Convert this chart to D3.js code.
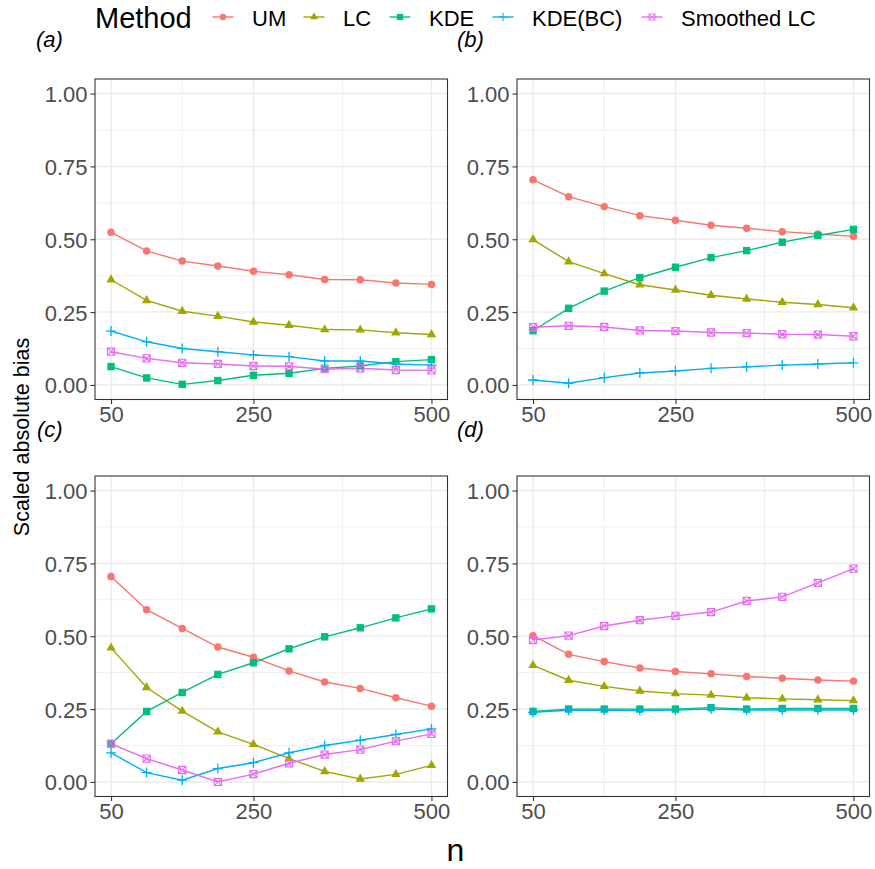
<!DOCTYPE html>
<html>
<head>
<meta charset="utf-8">
<script src="https://cdn.jsdelivr.net/npm/d3@7"></script>
<style>
  html, body { margin: 0; padding: 0; background: #fff; }
  svg { display: block; font-family: "Liberation Sans", Arial, Helvetica, sans-serif; }
</style>
</head>
<body>
<svg id="chart" width="875" height="869"></svg>
<script>
// ---------------- DATA ----------------
const nValues = [50, 100, 150, 200, 250, 300, 350, 400, 450, 500];
const methods = ["UM", "LC", "KDE", "KDE(BC)", "Smoothed LC"];
const methodColors = ["#F8766D", "#A3A500", "#00BF7D", "#00B0F6", "#E76BF3"];
const xTicks = [50, 250, 500];
const xMinor = [150, 375];
const yTicks = [0, 0.25, 0.5, 0.75, 1];
const yTickLabels = ["0.00", "0.25", "0.50", "0.75", "1.00"];
const yMinor = [0.125, 0.375, 0.625, 0.875];
const panelTags = ["(a)", "(b)", "(c)", "(d)"];

// panel (a)
const aUM  = [0.524, 0.460, 0.425, 0.408, 0.390, 0.378, 0.362, 0.361, 0.350, 0.345];
const aLC  = [0.361, 0.290, 0.253, 0.236, 0.216, 0.205, 0.190, 0.189, 0.179, 0.173];
const aKDE = [0.063, 0.024, 0.002, 0.015, 0.033, 0.040, 0.057, 0.065, 0.080, 0.087];
const aBC  = [0.185, 0.148, 0.125, 0.114, 0.103, 0.097, 0.082, 0.082, 0.072, 0.068];
const aSLC = [0.114, 0.091, 0.076, 0.072, 0.065, 0.064, 0.054, 0.057, 0.051, 0.050];
// panel (b)
const bUM  = [0.704, 0.646, 0.612, 0.581, 0.565, 0.548, 0.538, 0.526, 0.518, 0.510];
const bLC  = [0.499, 0.423, 0.382, 0.344, 0.326, 0.308, 0.295, 0.284, 0.276, 0.265];
const bKDE = [0.186, 0.263, 0.322, 0.368, 0.404, 0.437, 0.461, 0.490, 0.513, 0.534];
const bBC  = [0.017, 0.006, 0.025, 0.041, 0.048, 0.057, 0.062, 0.068, 0.072, 0.076];
const bSLC = [0.198, 0.203, 0.199, 0.187, 0.185, 0.180, 0.178, 0.174, 0.173, 0.167];
// panel (c)
const cUM  = [0.705, 0.591, 0.527, 0.463, 0.428, 0.381, 0.343, 0.321, 0.289, 0.260];
const cLC  = [0.460, 0.324, 0.243, 0.172, 0.129, 0.080, 0.036, 0.010, 0.026, 0.057];
const cKDE = [0.131, 0.242, 0.307, 0.369, 0.409, 0.457, 0.498, 0.529, 0.563, 0.594];
const cBC  = [0.100, 0.032, 0.006, 0.046, 0.066, 0.100, 0.125, 0.143, 0.163, 0.182];
const cSLC = [0.131, 0.080, 0.041, 0.000, 0.027, 0.064, 0.094, 0.111, 0.140, 0.165];
// panel (d)
const dUM  = [0.502, 0.438, 0.413, 0.391, 0.379, 0.371, 0.362, 0.356, 0.350, 0.346];
const dLC  = [0.400, 0.349, 0.328, 0.312, 0.303, 0.298, 0.289, 0.285, 0.282, 0.279];
const dKDE = [0.242, 0.250, 0.250, 0.250, 0.250, 0.255, 0.250, 0.252, 0.252, 0.252];
const dBC  = [0.239, 0.246, 0.247, 0.245, 0.247, 0.250, 0.247, 0.247, 0.247, 0.247];
const dSLC = [0.487, 0.502, 0.535, 0.555, 0.570, 0.583, 0.621, 0.635, 0.683, 0.732];

const panelSeries = [
  [aUM, aLC, aKDE, aBC, aSLC],
  [bUM, bLC, bKDE, bBC, bSLC],
  [cUM, cLC, cKDE, cBC, cSLC],
  [dUM, dLC, dKDE, dBC, dSLC]
];

// ---------------- LAYOUT ----------------
const svg = d3.select("#chart");
const colX = [95, 517];
const rowY = [79, 476];
const pw = 352.5, ph = 320.5;
const tagPos = [[36, 47], [457, 47], [37, 436.5], [457, 436.5]];

const x = d3.scaleLinear().domain([27.5, 522.5]).range([0, pw]);
const y = d3.scaleLinear().domain([-0.05, 1.05]).range([ph, 0]);

const font = '"Liberation Sans", Arial, Helvetica, sans-serif';

function markerPath(i) {
  // returns a path string for marker shape i, centred at 0,0
  switch (i) {
    case 0: return d3.symbol(d3.symbolCircle, 44)();
    case 1: { const s = 9.4, h = s * Math.sqrt(3) / 2;
              return `M0,${-2*h/3}L${s/2},${h/3}L${-s/2},${h/3}Z`; }
    case 2: return "M-3.7,-3.7H3.7V3.7H-3.7Z";
    case 3: return "M-5,0H5M0,-5V5";
    case 4: return "M-3.6,-3.6H3.6V3.6H-3.6ZM-3.6,-3.6L3.6,3.6M3.6,-3.6L-3.6,3.6";
  }
}
function drawMarker(g, i, cx, cy, scale) {
  const p = g.append("path")
    .attr("d", markerPath(i))
    .attr("transform", `translate(${cx},${cy}) scale(${scale || 1})`);
  if (i <= 2) p.attr("fill", methodColors[i]).attr("stroke", "none");
  else p.attr("fill", "none").attr("stroke", methodColors[i]).attr("stroke-width", i === 3 ? 1.3 : 1.1);
}

panelSeries.forEach((series, pi) => {
  const col = pi % 2, row = Math.floor(pi / 2);
  const g = svg.append("g").attr("transform", `translate(${colX[col]},${rowY[row]})`);

  // background
  g.append("rect").attr("width", pw).attr("height", ph).attr("fill", "#fff");

  // minor grid
  g.selectAll(".ym").data(yMinor).enter().append("line")
    .attr("x1", 0).attr("x2", pw).attr("y1", d => y(d)).attr("y2", d => y(d))
    .attr("stroke", "#EBEBEB").attr("stroke-width", 0.8);
  g.selectAll(".xm").data(xMinor).enter().append("line")
    .attr("y1", 0).attr("y2", ph).attr("x1", d => x(d)).attr("x2", d => x(d))
    .attr("stroke", "#EBEBEB").attr("stroke-width", 0.8);
  // major grid
  g.selectAll(".yM").data(yTicks).enter().append("line")
    .attr("x1", 0).attr("x2", pw).attr("y1", d => y(d)).attr("y2", d => y(d))
    .attr("stroke", "#EBEBEB").attr("stroke-width", 1.5);
  g.selectAll(".xM").data(xTicks).enter().append("line")
    .attr("y1", 0).attr("y2", ph).attr("x1", d => x(d)).attr("x2", d => x(d))
    .attr("stroke", "#EBEBEB").attr("stroke-width", 1.5);

  // lines
  const line = d3.line().x((d, i) => x(nValues[i])).y(d => y(d));
  series.forEach((vals, mi) => {
    g.append("path").datum(vals).attr("d", line)
      .attr("fill", "none").attr("stroke", methodColors[mi]).attr("stroke-width", 1.4);
  });
  // points
  series.forEach((vals, mi) => {
    vals.forEach((v, i) => drawMarker(g, mi, x(nValues[i]), y(v)));
  });

  // border
  g.append("rect").attr("width", pw).attr("height", ph)
    .attr("fill", "none").attr("stroke", "#333333").attr("stroke-width", 1.1);

  // y axis
  const yAxis = d3.axisLeft(y).tickValues(yTicks).tickSize(4.5).tickPadding(3)
    .tickFormat((d, i) => yTickLabels[i]);
  const ya = g.append("g").call(yAxis);
  ya.select(".domain").remove();
  ya.selectAll("line").attr("stroke", "#333333").attr("stroke-width", 1.1);
  ya.selectAll("text").attr("fill", "#4D4D4D").attr("font-size", 22).attr("font-family", font)
    .attr("dy", "0.36em");

  // x axis
  const xAxis = d3.axisBottom(x).tickValues(xTicks).tickSize(4.5).tickPadding(2)
    .tickFormat(d3.format("d"));
  const xa = g.append("g").attr("transform", `translate(0,${ph})`).call(xAxis);
  xa.select(".domain").remove();
  xa.selectAll("line").attr("stroke", "#333333").attr("stroke-width", 1.1);
  xa.selectAll("text").attr("fill", "#4D4D4D").attr("font-size", 22).attr("font-family", font)
    .attr("dy", "0.71em");

  // tag
  svg.append("text").attr("x", tagPos[pi][0]).attr("y", tagPos[pi][1])
    .attr("font-size", 22).attr("font-style", "italic").attr("fill", "#000")
    .attr("font-family", font).text(panelTags[pi]);
});

// axis titles
svg.append("text").attr("transform", "translate(29,437) rotate(-90)")
  .attr("text-anchor", "middle").attr("font-size", 21.5).attr("font-family", font)
  .attr("fill", "#000").text("Scaled absolute bias");
svg.append("text").attr("x", 455.5).attr("y", 861)
  .attr("text-anchor", "middle").attr("font-size", 32).attr("font-family", font)
  .attr("fill", "#000").text("n");

// legend
const lg = svg.append("g");
lg.append("text").attr("x", 95).attr("y", 28).attr("font-size", 29).attr("font-family", font)
  .attr("fill", "#000").text("Method");
const keyX = [223, 314, 400, 503, 652];
const labX = [252, 343, 429, 532, 681];
methods.forEach((m, i) => {
  lg.append("line").attr("x1", keyX[i] - 10.5).attr("x2", keyX[i] + 10.5)
    .attr("y1", 17).attr("y2", 17).attr("stroke", methodColors[i]).attr("stroke-width", 1.4);
  drawMarker(lg, i, keyX[i], 17, 0.85);
  lg.append("text").attr("x", labX[i]).attr("y", 25.5).attr("font-size", 22).attr("font-family", font)
    .attr("fill", "#000").text(m);
});
</script>
</body>
</html>
